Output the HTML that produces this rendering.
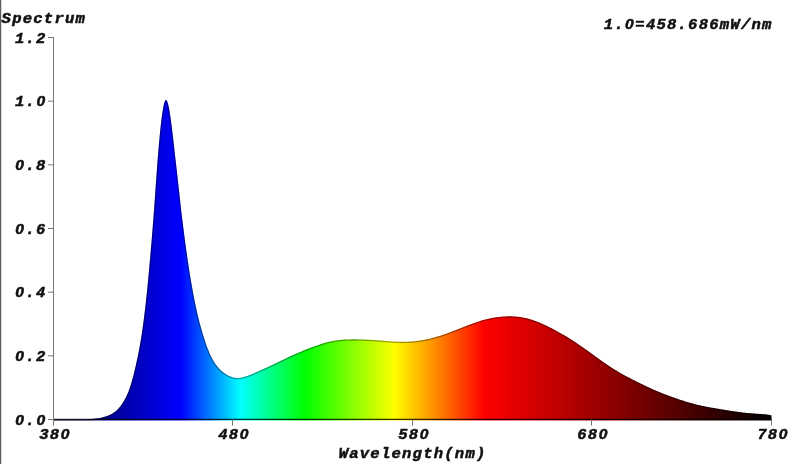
<!DOCTYPE html>
<html><head><meta charset="utf-8"><style>
html,body{margin:0;padding:0;background:#fff;width:800px;height:464px;overflow:hidden}
svg{display:block;filter:blur(0.3px)}
text{font-family:"Liberation Mono", monospace;font-weight:bold;font-style:italic;font-size:15px;text-anchor:middle;fill:#111;stroke:#111;stroke-width:0.5px}
text.z{font-family:"Liberation Sans",sans-serif}
</style></head><body>
<svg width="800" height="464" viewBox="0 0 800 464">
<defs><linearGradient id="sp" gradientUnits="userSpaceOnUse" x1="53.5" y1="0" x2="771.5" y2="0">
<stop offset="0.0000" stop-color="rgb(0,0,64)"/>
<stop offset="0.1775" stop-color="rgb(0,0,255)"/>
<stop offset="0.2600" stop-color="rgb(0,255,255)"/>
<stop offset="0.3500" stop-color="rgb(0,255,0)"/>
<stop offset="0.4750" stop-color="rgb(255,255,0)"/>
<stop offset="0.6000" stop-color="rgb(255,0,0)"/>
<stop offset="1.0000" stop-color="rgb(0,0,0)"/>
</linearGradient></defs>
<rect x="0" y="0" width="1" height="464" fill="#5c5c5c"/><rect x="1" y="0" width="1" height="464" fill="#d8d8d8"/>
<path d="M53.50,419.50 L54.40,419.50 L55.30,419.50 L56.19,419.50 L57.09,419.50 L57.99,419.50 L58.88,419.50 L59.78,419.50 L60.68,419.50 L61.58,419.50 L62.48,419.50 L63.37,419.50 L64.27,419.50 L65.17,419.50 L66.06,419.50 L66.96,419.50 L67.86,419.50 L68.76,419.50 L69.66,419.50 L70.55,419.50 L71.45,419.50 L72.35,419.50 L73.25,419.50 L74.14,419.50 L75.04,419.50 L75.94,419.50 L76.84,419.50 L77.73,419.50 L78.63,419.50 L79.53,419.50 L80.42,419.50 L81.32,419.50 L82.22,419.50 L83.12,419.50 L84.02,419.50 L84.91,419.50 L85.81,419.50 L86.71,419.42 L87.60,419.34 L88.50,419.26 L89.40,419.19 L90.30,419.11 L91.19,419.03 L92.09,418.95 L92.99,418.86 L93.89,418.77 L94.78,418.67 L95.68,418.57 L96.58,418.45 L97.48,418.33 L98.38,418.19 L99.27,418.04 L100.17,417.88 L101.07,417.70 L101.97,417.51 L102.86,417.30 L103.76,417.07 L104.66,416.82 L105.56,416.55 L106.45,416.25 L107.35,415.94 L108.25,415.59 L109.14,415.22 L110.04,414.81 L110.94,414.37 L111.84,413.88 L112.73,413.34 L113.63,412.76 L114.53,412.11 L115.43,411.41 L116.32,410.64 L117.22,409.81 L118.12,408.90 L119.02,407.91 L119.91,406.84 L120.81,405.69 L121.71,404.44 L122.61,403.10 L123.50,401.66 L124.40,400.11 L125.30,398.46 L126.20,396.69 L127.09,394.78 L127.99,392.71 L128.89,390.45 L129.79,387.98 L130.69,385.27 L131.58,382.30 L132.48,379.10 L133.38,375.68 L134.27,372.06 L135.17,368.27 L136.07,364.33 L136.97,360.25 L137.87,356.00 L138.76,351.51 L139.66,346.72 L140.56,341.60 L141.45,336.07 L142.35,330.10 L143.25,323.67 L144.15,316.75 L145.05,309.35 L145.94,301.44 L146.84,293.01 L147.74,284.07 L148.63,274.64 L149.53,264.79 L150.43,254.56 L151.33,244.01 L152.22,233.17 L153.12,222.03 L154.02,210.30 L154.92,197.78 L155.81,184.88 L156.71,172.20 L157.61,160.24 L158.51,149.14 L159.41,138.93 L160.30,129.67 L161.20,121.47 L162.10,114.44 L163.00,108.69 L163.89,104.33 L164.79,101.45 L165.69,100.12 L166.58,100.34 L167.48,102.05 L168.38,105.22 L169.28,109.66 L170.18,115.18 L171.07,121.60 L171.97,128.70 L172.87,136.25 L173.76,144.06 L174.66,151.97 L175.56,159.88 L176.46,167.71 L177.35,175.58 L178.25,183.64 L179.15,191.99 L180.05,200.37 L180.94,208.47 L181.84,216.07 L182.74,223.30 L183.64,230.36 L184.53,237.28 L185.43,244.03 L186.33,250.60 L187.23,256.96 L188.12,263.10 L189.02,269.00 L189.92,274.67 L190.82,280.11 L191.72,285.33 L192.61,290.33 L193.51,295.13 L194.41,299.73 L195.31,304.14 L196.20,308.36 L197.10,312.39 L198.00,316.24 L198.89,319.91 L199.79,323.40 L200.69,326.73 L201.59,329.92 L202.48,332.98 L203.38,335.92 L204.28,338.75 L205.18,341.49 L206.07,344.13 L206.97,346.66 L207.87,349.07 L208.77,351.34 L209.66,353.47 L210.56,355.45 L211.46,357.28 L212.36,358.98 L213.25,360.56 L214.15,362.03 L215.05,363.39 L215.95,364.67 L216.84,365.86 L217.74,366.98 L218.64,368.01 L219.54,368.98 L220.44,369.88 L221.33,370.72 L222.23,371.49 L223.13,372.22 L224.03,372.89 L224.92,373.52 L225.82,374.11 L226.72,374.66 L227.61,375.17 L228.51,375.64 L229.41,376.08 L230.31,376.47 L231.20,376.82 L232.10,377.13 L233.00,377.39 L233.90,377.61 L234.79,377.79 L235.69,377.91 L236.59,377.99 L237.49,378.02 L238.38,378.00 L239.28,377.94 L240.18,377.84 L241.08,377.71 L241.97,377.53 L242.87,377.33 L243.77,377.10 L244.67,376.84 L245.56,376.56 L246.46,376.26 L247.36,375.95 L248.26,375.62 L249.16,375.27 L250.05,374.92 L250.95,374.55 L251.85,374.18 L252.75,373.79 L253.64,373.41 L254.54,373.01 L255.44,372.61 L256.33,372.21 L257.23,371.81 L258.13,371.41 L259.03,371.01 L259.92,370.61 L260.82,370.21 L261.72,369.81 L262.62,369.40 L263.51,369.00 L264.41,368.60 L265.31,368.20 L266.21,367.79 L267.11,367.38 L268.00,366.97 L268.90,366.56 L269.80,366.14 L270.69,365.72 L271.59,365.30 L272.49,364.87 L273.39,364.45 L274.28,364.02 L275.18,363.59 L276.08,363.16 L276.98,362.72 L277.88,362.29 L278.77,361.86 L279.67,361.42 L280.57,360.99 L281.47,360.55 L282.36,360.12 L283.26,359.69 L284.16,359.26 L285.05,358.83 L285.95,358.40 L286.85,357.97 L287.75,357.54 L288.64,357.12 L289.54,356.70 L290.44,356.29 L291.34,355.87 L292.24,355.46 L293.13,355.06 L294.03,354.65 L294.93,354.25 L295.82,353.85 L296.72,353.46 L297.62,353.07 L298.52,352.68 L299.41,352.30 L300.31,351.92 L301.21,351.54 L302.11,351.16 L303.00,350.79 L303.90,350.42 L304.80,350.06 L305.70,349.70 L306.60,349.34 L307.49,348.99 L308.39,348.63 L309.29,348.29 L310.19,347.94 L311.08,347.60 L311.98,347.26 L312.88,346.93 L313.77,346.60 L314.67,346.27 L315.57,345.95 L316.47,345.63 L317.37,345.31 L318.26,345.01 L319.16,344.70 L320.06,344.41 L320.95,344.12 L321.85,343.83 L322.75,343.56 L323.65,343.29 L324.55,343.03 L325.44,342.77 L326.34,342.53 L327.24,342.29 L328.13,342.06 L329.03,341.84 L329.93,341.63 L330.83,341.43 L331.72,341.24 L332.62,341.06 L333.52,340.89 L334.42,340.73 L335.31,340.58 L336.21,340.45 L337.11,340.32 L338.01,340.20 L338.90,340.09 L339.80,339.99 L340.70,339.90 L341.60,339.82 L342.50,339.75 L343.39,339.68 L344.29,339.62 L345.19,339.57 L346.08,339.52 L346.98,339.48 L347.88,339.45 L348.78,339.42 L349.68,339.40 L350.57,339.38 L351.47,339.37 L352.37,339.36 L353.26,339.36 L354.16,339.35 L355.06,339.36 L355.96,339.36 L356.85,339.37 L357.75,339.38 L358.65,339.39 L359.55,339.41 L360.44,339.43 L361.34,339.45 L362.24,339.48 L363.14,339.51 L364.03,339.54 L364.93,339.57 L365.83,339.61 L366.73,339.64 L367.62,339.69 L368.52,339.73 L369.42,339.78 L370.32,339.82 L371.21,339.88 L372.11,339.93 L373.01,339.99 L373.91,340.05 L374.81,340.11 L375.70,340.17 L376.60,340.24 L377.50,340.31 L378.39,340.38 L379.29,340.45 L380.19,340.52 L381.09,340.60 L381.99,340.67 L382.88,340.75 L383.78,340.82 L384.68,340.90 L385.57,340.97 L386.47,341.05 L387.37,341.12 L388.27,341.19 L389.16,341.26 L390.06,341.33 L390.96,341.39 L391.86,341.45 L392.75,341.51 L393.65,341.56 L394.55,341.61 L395.45,341.66 L396.34,341.70 L397.24,341.73 L398.14,341.76 L399.04,341.79 L399.94,341.81 L400.83,341.82 L401.73,341.83 L402.63,341.83 L403.52,341.83 L404.42,341.82 L405.32,341.80 L406.22,341.77 L407.12,341.75 L408.01,341.71 L408.91,341.67 L409.81,341.62 L410.70,341.56 L411.60,341.50 L412.50,341.43 L413.40,341.35 L414.29,341.27 L415.19,341.17 L416.09,341.08 L416.99,340.97 L417.88,340.86 L418.78,340.74 L419.68,340.61 L420.58,340.47 L421.47,340.33 L422.37,340.18 L423.27,340.02 L424.17,339.85 L425.06,339.68 L425.96,339.50 L426.86,339.31 L427.76,339.11 L428.65,338.91 L429.55,338.70 L430.45,338.49 L431.35,338.27 L432.25,338.04 L433.14,337.80 L434.04,337.56 L434.94,337.32 L435.83,337.06 L436.73,336.80 L437.63,336.53 L438.53,336.26 L439.43,335.98 L440.32,335.70 L441.22,335.41 L442.12,335.11 L443.01,334.81 L443.91,334.51 L444.81,334.20 L445.71,333.88 L446.60,333.56 L447.50,333.23 L448.40,332.91 L449.30,332.58 L450.19,332.24 L451.09,331.90 L451.99,331.56 L452.89,331.22 L453.78,330.87 L454.68,330.53 L455.58,330.18 L456.48,329.83 L457.38,329.47 L458.27,329.12 L459.17,328.77 L460.07,328.41 L460.96,328.06 L461.86,327.71 L462.76,327.35 L463.66,327.00 L464.56,326.65 L465.45,326.30 L466.35,325.95 L467.25,325.61 L468.14,325.26 L469.04,324.92 L469.94,324.58 L470.84,324.25 L471.73,323.92 L472.63,323.59 L473.53,323.27 L474.43,322.95 L475.32,322.63 L476.22,322.32 L477.12,322.02 L478.02,321.72 L478.91,321.43 L479.81,321.14 L480.71,320.87 L481.61,320.59 L482.50,320.33 L483.40,320.07 L484.30,319.83 L485.20,319.59 L486.09,319.35 L486.99,319.13 L487.89,318.91 L488.79,318.71 L489.69,318.51 L490.58,318.32 L491.48,318.14 L492.38,317.97 L493.27,317.80 L494.17,317.65 L495.07,317.50 L495.97,317.36 L496.87,317.23 L497.76,317.11 L498.66,317.00 L499.56,316.89 L500.45,316.80 L501.35,316.71 L502.25,316.64 L503.15,316.57 L504.04,316.51 L504.94,316.46 L505.84,316.42 L506.74,316.39 L507.63,316.36 L508.53,316.35 L509.43,316.35 L510.33,316.35 L511.22,316.37 L512.12,316.39 L513.02,316.43 L513.92,316.47 L514.82,316.53 L515.71,316.60 L516.61,316.68 L517.51,316.76 L518.40,316.86 L519.30,316.98 L520.20,317.10 L521.10,317.24 L522.00,317.38 L522.89,317.54 L523.79,317.71 L524.69,317.90 L525.59,318.09 L526.48,318.30 L527.38,318.52 L528.28,318.76 L529.17,319.01 L530.07,319.27 L530.97,319.54 L531.87,319.82 L532.76,320.12 L533.66,320.43 L534.56,320.74 L535.46,321.07 L536.36,321.41 L537.25,321.75 L538.15,322.11 L539.05,322.48 L539.94,322.85 L540.84,323.23 L541.74,323.62 L542.64,324.02 L543.53,324.42 L544.43,324.83 L545.33,325.25 L546.23,325.67 L547.12,326.10 L548.02,326.54 L548.92,326.98 L549.82,327.42 L550.71,327.87 L551.61,328.32 L552.51,328.78 L553.41,329.24 L554.31,329.71 L555.20,330.19 L556.10,330.66 L557.00,331.15 L557.89,331.64 L558.79,332.13 L559.69,332.63 L560.59,333.13 L561.48,333.64 L562.38,334.16 L563.28,334.68 L564.18,335.21 L565.08,335.74 L565.97,336.28 L566.87,336.82 L567.77,337.37 L568.66,337.93 L569.56,338.49 L570.46,339.06 L571.36,339.63 L572.25,340.21 L573.15,340.79 L574.05,341.38 L574.95,341.98 L575.85,342.58 L576.74,343.18 L577.64,343.79 L578.54,344.41 L579.43,345.03 L580.33,345.65 L581.23,346.27 L582.13,346.90 L583.02,347.53 L583.92,348.17 L584.82,348.80 L585.72,349.44 L586.62,350.08 L587.51,350.73 L588.41,351.37 L589.31,352.02 L590.20,352.67 L591.10,353.31 L592.00,353.96 L592.90,354.61 L593.79,355.26 L594.69,355.91 L595.59,356.56 L596.49,357.21 L597.38,357.86 L598.28,358.51 L599.18,359.15 L600.08,359.79 L600.98,360.43 L601.87,361.07 L602.77,361.70 L603.67,362.33 L604.56,362.96 L605.46,363.58 L606.36,364.20 L607.26,364.81 L608.15,365.42 L609.05,366.02 L609.95,366.61 L610.85,367.20 L611.75,367.78 L612.64,368.36 L613.54,368.92 L614.44,369.48 L615.33,370.04 L616.23,370.58 L617.13,371.12 L618.03,371.65 L618.92,372.17 L619.82,372.69 L620.72,373.21 L621.62,373.71 L622.51,374.21 L623.41,374.71 L624.31,375.20 L625.21,375.69 L626.11,376.17 L627.00,376.65 L627.90,377.12 L628.80,377.59 L629.69,378.06 L630.59,378.52 L631.49,378.99 L632.39,379.44 L633.28,379.90 L634.18,380.35 L635.08,380.81 L635.98,381.26 L636.88,381.71 L637.77,382.15 L638.67,382.60 L639.57,383.04 L640.47,383.48 L641.36,383.92 L642.26,384.36 L643.16,384.79 L644.05,385.22 L644.95,385.65 L645.85,386.08 L646.75,386.50 L647.64,386.92 L648.54,387.34 L649.44,387.75 L650.34,388.16 L651.24,388.57 L652.13,388.98 L653.03,389.38 L653.93,389.77 L654.82,390.17 L655.72,390.56 L656.62,390.94 L657.52,391.32 L658.41,391.70 L659.31,392.07 L660.21,392.44 L661.11,392.81 L662.00,393.17 L662.90,393.53 L663.80,393.88 L664.70,394.23 L665.60,394.58 L666.49,394.92 L667.39,395.26 L668.29,395.60 L669.18,395.93 L670.08,396.26 L670.98,396.59 L671.88,396.91 L672.77,397.23 L673.67,397.55 L674.57,397.87 L675.47,398.18 L676.37,398.49 L677.26,398.79 L678.16,399.09 L679.06,399.39 L679.95,399.69 L680.85,399.99 L681.75,400.28 L682.65,400.57 L683.54,400.85 L684.44,401.13 L685.34,401.41 L686.24,401.68 L687.13,401.95 L688.03,402.22 L688.93,402.49 L689.83,402.74 L690.73,403.00 L691.62,403.25 L692.52,403.50 L693.42,403.74 L694.31,403.98 L695.21,404.21 L696.11,404.44 L697.01,404.66 L697.90,404.88 L698.80,405.10 L699.70,405.31 L700.60,405.51 L701.50,405.71 L702.39,405.90 L703.29,406.09 L704.19,406.28 L705.08,406.46 L705.98,406.64 L706.88,406.81 L707.78,406.98 L708.67,407.15 L709.57,407.32 L710.47,407.48 L711.37,407.64 L712.26,407.80 L713.16,407.95 L714.06,408.11 L714.96,408.26 L715.86,408.41 L716.75,408.56 L717.65,408.71 L718.55,408.86 L719.44,409.01 L720.34,409.16 L721.24,409.31 L722.14,409.46 L723.03,409.61 L723.93,409.76 L724.83,409.91 L725.73,410.06 L726.62,410.21 L727.52,410.35 L728.42,410.50 L729.32,410.65 L730.21,410.79 L731.11,410.93 L732.01,411.07 L732.91,411.21 L733.80,411.35 L734.70,411.48 L735.60,411.62 L736.50,411.74 L737.39,411.87 L738.29,411.99 L739.19,412.11 L740.09,412.23 L740.99,412.34 L741.88,412.45 L742.78,412.55 L743.68,412.65 L744.57,412.75 L745.47,412.84 L746.37,412.93 L747.27,413.02 L748.16,413.10 L749.06,413.18 L749.96,413.25 L750.86,413.33 L751.75,413.40 L752.65,413.47 L753.55,413.53 L754.45,413.60 L755.35,413.66 L756.24,413.73 L757.14,413.79 L758.04,413.85 L758.93,413.92 L759.83,413.98 L760.73,414.04 L761.63,414.10 L762.52,414.16 L763.42,414.23 L764.32,414.29 L765.22,414.36 L766.12,414.44 L767.01,414.53 L767.91,414.65 L768.81,414.81 L769.70,415.01 L770.60,415.27 L771.50,415.58 L771.5,420.6 L53.5,420.6 Z" fill="url(#sp)"/>
<clipPath id="cp"><path d="M53.50,419.50 L54.40,419.50 L55.30,419.50 L56.19,419.50 L57.09,419.50 L57.99,419.50 L58.88,419.50 L59.78,419.50 L60.68,419.50 L61.58,419.50 L62.48,419.50 L63.37,419.50 L64.27,419.50 L65.17,419.50 L66.06,419.50 L66.96,419.50 L67.86,419.50 L68.76,419.50 L69.66,419.50 L70.55,419.50 L71.45,419.50 L72.35,419.50 L73.25,419.50 L74.14,419.50 L75.04,419.50 L75.94,419.50 L76.84,419.50 L77.73,419.50 L78.63,419.50 L79.53,419.50 L80.42,419.50 L81.32,419.50 L82.22,419.50 L83.12,419.50 L84.02,419.50 L84.91,419.50 L85.81,419.50 L86.71,419.42 L87.60,419.34 L88.50,419.26 L89.40,419.19 L90.30,419.11 L91.19,419.03 L92.09,418.95 L92.99,418.86 L93.89,418.77 L94.78,418.67 L95.68,418.57 L96.58,418.45 L97.48,418.33 L98.38,418.19 L99.27,418.04 L100.17,417.88 L101.07,417.70 L101.97,417.51 L102.86,417.30 L103.76,417.07 L104.66,416.82 L105.56,416.55 L106.45,416.25 L107.35,415.94 L108.25,415.59 L109.14,415.22 L110.04,414.81 L110.94,414.37 L111.84,413.88 L112.73,413.34 L113.63,412.76 L114.53,412.11 L115.43,411.41 L116.32,410.64 L117.22,409.81 L118.12,408.90 L119.02,407.91 L119.91,406.84 L120.81,405.69 L121.71,404.44 L122.61,403.10 L123.50,401.66 L124.40,400.11 L125.30,398.46 L126.20,396.69 L127.09,394.78 L127.99,392.71 L128.89,390.45 L129.79,387.98 L130.69,385.27 L131.58,382.30 L132.48,379.10 L133.38,375.68 L134.27,372.06 L135.17,368.27 L136.07,364.33 L136.97,360.25 L137.87,356.00 L138.76,351.51 L139.66,346.72 L140.56,341.60 L141.45,336.07 L142.35,330.10 L143.25,323.67 L144.15,316.75 L145.05,309.35 L145.94,301.44 L146.84,293.01 L147.74,284.07 L148.63,274.64 L149.53,264.79 L150.43,254.56 L151.33,244.01 L152.22,233.17 L153.12,222.03 L154.02,210.30 L154.92,197.78 L155.81,184.88 L156.71,172.20 L157.61,160.24 L158.51,149.14 L159.41,138.93 L160.30,129.67 L161.20,121.47 L162.10,114.44 L163.00,108.69 L163.89,104.33 L164.79,101.45 L165.69,100.12 L166.58,100.34 L167.48,102.05 L168.38,105.22 L169.28,109.66 L170.18,115.18 L171.07,121.60 L171.97,128.70 L172.87,136.25 L173.76,144.06 L174.66,151.97 L175.56,159.88 L176.46,167.71 L177.35,175.58 L178.25,183.64 L179.15,191.99 L180.05,200.37 L180.94,208.47 L181.84,216.07 L182.74,223.30 L183.64,230.36 L184.53,237.28 L185.43,244.03 L186.33,250.60 L187.23,256.96 L188.12,263.10 L189.02,269.00 L189.92,274.67 L190.82,280.11 L191.72,285.33 L192.61,290.33 L193.51,295.13 L194.41,299.73 L195.31,304.14 L196.20,308.36 L197.10,312.39 L198.00,316.24 L198.89,319.91 L199.79,323.40 L200.69,326.73 L201.59,329.92 L202.48,332.98 L203.38,335.92 L204.28,338.75 L205.18,341.49 L206.07,344.13 L206.97,346.66 L207.87,349.07 L208.77,351.34 L209.66,353.47 L210.56,355.45 L211.46,357.28 L212.36,358.98 L213.25,360.56 L214.15,362.03 L215.05,363.39 L215.95,364.67 L216.84,365.86 L217.74,366.98 L218.64,368.01 L219.54,368.98 L220.44,369.88 L221.33,370.72 L222.23,371.49 L223.13,372.22 L224.03,372.89 L224.92,373.52 L225.82,374.11 L226.72,374.66 L227.61,375.17 L228.51,375.64 L229.41,376.08 L230.31,376.47 L231.20,376.82 L232.10,377.13 L233.00,377.39 L233.90,377.61 L234.79,377.79 L235.69,377.91 L236.59,377.99 L237.49,378.02 L238.38,378.00 L239.28,377.94 L240.18,377.84 L241.08,377.71 L241.97,377.53 L242.87,377.33 L243.77,377.10 L244.67,376.84 L245.56,376.56 L246.46,376.26 L247.36,375.95 L248.26,375.62 L249.16,375.27 L250.05,374.92 L250.95,374.55 L251.85,374.18 L252.75,373.79 L253.64,373.41 L254.54,373.01 L255.44,372.61 L256.33,372.21 L257.23,371.81 L258.13,371.41 L259.03,371.01 L259.92,370.61 L260.82,370.21 L261.72,369.81 L262.62,369.40 L263.51,369.00 L264.41,368.60 L265.31,368.20 L266.21,367.79 L267.11,367.38 L268.00,366.97 L268.90,366.56 L269.80,366.14 L270.69,365.72 L271.59,365.30 L272.49,364.87 L273.39,364.45 L274.28,364.02 L275.18,363.59 L276.08,363.16 L276.98,362.72 L277.88,362.29 L278.77,361.86 L279.67,361.42 L280.57,360.99 L281.47,360.55 L282.36,360.12 L283.26,359.69 L284.16,359.26 L285.05,358.83 L285.95,358.40 L286.85,357.97 L287.75,357.54 L288.64,357.12 L289.54,356.70 L290.44,356.29 L291.34,355.87 L292.24,355.46 L293.13,355.06 L294.03,354.65 L294.93,354.25 L295.82,353.85 L296.72,353.46 L297.62,353.07 L298.52,352.68 L299.41,352.30 L300.31,351.92 L301.21,351.54 L302.11,351.16 L303.00,350.79 L303.90,350.42 L304.80,350.06 L305.70,349.70 L306.60,349.34 L307.49,348.99 L308.39,348.63 L309.29,348.29 L310.19,347.94 L311.08,347.60 L311.98,347.26 L312.88,346.93 L313.77,346.60 L314.67,346.27 L315.57,345.95 L316.47,345.63 L317.37,345.31 L318.26,345.01 L319.16,344.70 L320.06,344.41 L320.95,344.12 L321.85,343.83 L322.75,343.56 L323.65,343.29 L324.55,343.03 L325.44,342.77 L326.34,342.53 L327.24,342.29 L328.13,342.06 L329.03,341.84 L329.93,341.63 L330.83,341.43 L331.72,341.24 L332.62,341.06 L333.52,340.89 L334.42,340.73 L335.31,340.58 L336.21,340.45 L337.11,340.32 L338.01,340.20 L338.90,340.09 L339.80,339.99 L340.70,339.90 L341.60,339.82 L342.50,339.75 L343.39,339.68 L344.29,339.62 L345.19,339.57 L346.08,339.52 L346.98,339.48 L347.88,339.45 L348.78,339.42 L349.68,339.40 L350.57,339.38 L351.47,339.37 L352.37,339.36 L353.26,339.36 L354.16,339.35 L355.06,339.36 L355.96,339.36 L356.85,339.37 L357.75,339.38 L358.65,339.39 L359.55,339.41 L360.44,339.43 L361.34,339.45 L362.24,339.48 L363.14,339.51 L364.03,339.54 L364.93,339.57 L365.83,339.61 L366.73,339.64 L367.62,339.69 L368.52,339.73 L369.42,339.78 L370.32,339.82 L371.21,339.88 L372.11,339.93 L373.01,339.99 L373.91,340.05 L374.81,340.11 L375.70,340.17 L376.60,340.24 L377.50,340.31 L378.39,340.38 L379.29,340.45 L380.19,340.52 L381.09,340.60 L381.99,340.67 L382.88,340.75 L383.78,340.82 L384.68,340.90 L385.57,340.97 L386.47,341.05 L387.37,341.12 L388.27,341.19 L389.16,341.26 L390.06,341.33 L390.96,341.39 L391.86,341.45 L392.75,341.51 L393.65,341.56 L394.55,341.61 L395.45,341.66 L396.34,341.70 L397.24,341.73 L398.14,341.76 L399.04,341.79 L399.94,341.81 L400.83,341.82 L401.73,341.83 L402.63,341.83 L403.52,341.83 L404.42,341.82 L405.32,341.80 L406.22,341.77 L407.12,341.75 L408.01,341.71 L408.91,341.67 L409.81,341.62 L410.70,341.56 L411.60,341.50 L412.50,341.43 L413.40,341.35 L414.29,341.27 L415.19,341.17 L416.09,341.08 L416.99,340.97 L417.88,340.86 L418.78,340.74 L419.68,340.61 L420.58,340.47 L421.47,340.33 L422.37,340.18 L423.27,340.02 L424.17,339.85 L425.06,339.68 L425.96,339.50 L426.86,339.31 L427.76,339.11 L428.65,338.91 L429.55,338.70 L430.45,338.49 L431.35,338.27 L432.25,338.04 L433.14,337.80 L434.04,337.56 L434.94,337.32 L435.83,337.06 L436.73,336.80 L437.63,336.53 L438.53,336.26 L439.43,335.98 L440.32,335.70 L441.22,335.41 L442.12,335.11 L443.01,334.81 L443.91,334.51 L444.81,334.20 L445.71,333.88 L446.60,333.56 L447.50,333.23 L448.40,332.91 L449.30,332.58 L450.19,332.24 L451.09,331.90 L451.99,331.56 L452.89,331.22 L453.78,330.87 L454.68,330.53 L455.58,330.18 L456.48,329.83 L457.38,329.47 L458.27,329.12 L459.17,328.77 L460.07,328.41 L460.96,328.06 L461.86,327.71 L462.76,327.35 L463.66,327.00 L464.56,326.65 L465.45,326.30 L466.35,325.95 L467.25,325.61 L468.14,325.26 L469.04,324.92 L469.94,324.58 L470.84,324.25 L471.73,323.92 L472.63,323.59 L473.53,323.27 L474.43,322.95 L475.32,322.63 L476.22,322.32 L477.12,322.02 L478.02,321.72 L478.91,321.43 L479.81,321.14 L480.71,320.87 L481.61,320.59 L482.50,320.33 L483.40,320.07 L484.30,319.83 L485.20,319.59 L486.09,319.35 L486.99,319.13 L487.89,318.91 L488.79,318.71 L489.69,318.51 L490.58,318.32 L491.48,318.14 L492.38,317.97 L493.27,317.80 L494.17,317.65 L495.07,317.50 L495.97,317.36 L496.87,317.23 L497.76,317.11 L498.66,317.00 L499.56,316.89 L500.45,316.80 L501.35,316.71 L502.25,316.64 L503.15,316.57 L504.04,316.51 L504.94,316.46 L505.84,316.42 L506.74,316.39 L507.63,316.36 L508.53,316.35 L509.43,316.35 L510.33,316.35 L511.22,316.37 L512.12,316.39 L513.02,316.43 L513.92,316.47 L514.82,316.53 L515.71,316.60 L516.61,316.68 L517.51,316.76 L518.40,316.86 L519.30,316.98 L520.20,317.10 L521.10,317.24 L522.00,317.38 L522.89,317.54 L523.79,317.71 L524.69,317.90 L525.59,318.09 L526.48,318.30 L527.38,318.52 L528.28,318.76 L529.17,319.01 L530.07,319.27 L530.97,319.54 L531.87,319.82 L532.76,320.12 L533.66,320.43 L534.56,320.74 L535.46,321.07 L536.36,321.41 L537.25,321.75 L538.15,322.11 L539.05,322.48 L539.94,322.85 L540.84,323.23 L541.74,323.62 L542.64,324.02 L543.53,324.42 L544.43,324.83 L545.33,325.25 L546.23,325.67 L547.12,326.10 L548.02,326.54 L548.92,326.98 L549.82,327.42 L550.71,327.87 L551.61,328.32 L552.51,328.78 L553.41,329.24 L554.31,329.71 L555.20,330.19 L556.10,330.66 L557.00,331.15 L557.89,331.64 L558.79,332.13 L559.69,332.63 L560.59,333.13 L561.48,333.64 L562.38,334.16 L563.28,334.68 L564.18,335.21 L565.08,335.74 L565.97,336.28 L566.87,336.82 L567.77,337.37 L568.66,337.93 L569.56,338.49 L570.46,339.06 L571.36,339.63 L572.25,340.21 L573.15,340.79 L574.05,341.38 L574.95,341.98 L575.85,342.58 L576.74,343.18 L577.64,343.79 L578.54,344.41 L579.43,345.03 L580.33,345.65 L581.23,346.27 L582.13,346.90 L583.02,347.53 L583.92,348.17 L584.82,348.80 L585.72,349.44 L586.62,350.08 L587.51,350.73 L588.41,351.37 L589.31,352.02 L590.20,352.67 L591.10,353.31 L592.00,353.96 L592.90,354.61 L593.79,355.26 L594.69,355.91 L595.59,356.56 L596.49,357.21 L597.38,357.86 L598.28,358.51 L599.18,359.15 L600.08,359.79 L600.98,360.43 L601.87,361.07 L602.77,361.70 L603.67,362.33 L604.56,362.96 L605.46,363.58 L606.36,364.20 L607.26,364.81 L608.15,365.42 L609.05,366.02 L609.95,366.61 L610.85,367.20 L611.75,367.78 L612.64,368.36 L613.54,368.92 L614.44,369.48 L615.33,370.04 L616.23,370.58 L617.13,371.12 L618.03,371.65 L618.92,372.17 L619.82,372.69 L620.72,373.21 L621.62,373.71 L622.51,374.21 L623.41,374.71 L624.31,375.20 L625.21,375.69 L626.11,376.17 L627.00,376.65 L627.90,377.12 L628.80,377.59 L629.69,378.06 L630.59,378.52 L631.49,378.99 L632.39,379.44 L633.28,379.90 L634.18,380.35 L635.08,380.81 L635.98,381.26 L636.88,381.71 L637.77,382.15 L638.67,382.60 L639.57,383.04 L640.47,383.48 L641.36,383.92 L642.26,384.36 L643.16,384.79 L644.05,385.22 L644.95,385.65 L645.85,386.08 L646.75,386.50 L647.64,386.92 L648.54,387.34 L649.44,387.75 L650.34,388.16 L651.24,388.57 L652.13,388.98 L653.03,389.38 L653.93,389.77 L654.82,390.17 L655.72,390.56 L656.62,390.94 L657.52,391.32 L658.41,391.70 L659.31,392.07 L660.21,392.44 L661.11,392.81 L662.00,393.17 L662.90,393.53 L663.80,393.88 L664.70,394.23 L665.60,394.58 L666.49,394.92 L667.39,395.26 L668.29,395.60 L669.18,395.93 L670.08,396.26 L670.98,396.59 L671.88,396.91 L672.77,397.23 L673.67,397.55 L674.57,397.87 L675.47,398.18 L676.37,398.49 L677.26,398.79 L678.16,399.09 L679.06,399.39 L679.95,399.69 L680.85,399.99 L681.75,400.28 L682.65,400.57 L683.54,400.85 L684.44,401.13 L685.34,401.41 L686.24,401.68 L687.13,401.95 L688.03,402.22 L688.93,402.49 L689.83,402.74 L690.73,403.00 L691.62,403.25 L692.52,403.50 L693.42,403.74 L694.31,403.98 L695.21,404.21 L696.11,404.44 L697.01,404.66 L697.90,404.88 L698.80,405.10 L699.70,405.31 L700.60,405.51 L701.50,405.71 L702.39,405.90 L703.29,406.09 L704.19,406.28 L705.08,406.46 L705.98,406.64 L706.88,406.81 L707.78,406.98 L708.67,407.15 L709.57,407.32 L710.47,407.48 L711.37,407.64 L712.26,407.80 L713.16,407.95 L714.06,408.11 L714.96,408.26 L715.86,408.41 L716.75,408.56 L717.65,408.71 L718.55,408.86 L719.44,409.01 L720.34,409.16 L721.24,409.31 L722.14,409.46 L723.03,409.61 L723.93,409.76 L724.83,409.91 L725.73,410.06 L726.62,410.21 L727.52,410.35 L728.42,410.50 L729.32,410.65 L730.21,410.79 L731.11,410.93 L732.01,411.07 L732.91,411.21 L733.80,411.35 L734.70,411.48 L735.60,411.62 L736.50,411.74 L737.39,411.87 L738.29,411.99 L739.19,412.11 L740.09,412.23 L740.99,412.34 L741.88,412.45 L742.78,412.55 L743.68,412.65 L744.57,412.75 L745.47,412.84 L746.37,412.93 L747.27,413.02 L748.16,413.10 L749.06,413.18 L749.96,413.25 L750.86,413.33 L751.75,413.40 L752.65,413.47 L753.55,413.53 L754.45,413.60 L755.35,413.66 L756.24,413.73 L757.14,413.79 L758.04,413.85 L758.93,413.92 L759.83,413.98 L760.73,414.04 L761.63,414.10 L762.52,414.16 L763.42,414.23 L764.32,414.29 L765.22,414.36 L766.12,414.44 L767.01,414.53 L767.91,414.65 L768.81,414.81 L769.70,415.01 L770.60,415.27 L771.50,415.58 L771.5,420.6 L53.5,420.6 Z"/></clipPath>
<path d="M53.50,419.50 L54.40,419.50 L55.30,419.50 L56.19,419.50 L57.09,419.50 L57.99,419.50 L58.88,419.50 L59.78,419.50 L60.68,419.50 L61.58,419.50 L62.48,419.50 L63.37,419.50 L64.27,419.50 L65.17,419.50 L66.06,419.50 L66.96,419.50 L67.86,419.50 L68.76,419.50 L69.66,419.50 L70.55,419.50 L71.45,419.50 L72.35,419.50 L73.25,419.50 L74.14,419.50 L75.04,419.50 L75.94,419.50 L76.84,419.50 L77.73,419.50 L78.63,419.50 L79.53,419.50 L80.42,419.50 L81.32,419.50 L82.22,419.50 L83.12,419.50 L84.02,419.50 L84.91,419.50 L85.81,419.50 L86.71,419.42 L87.60,419.34 L88.50,419.26 L89.40,419.19 L90.30,419.11 L91.19,419.03 L92.09,418.95 L92.99,418.86 L93.89,418.77 L94.78,418.67 L95.68,418.57 L96.58,418.45 L97.48,418.33 L98.38,418.19 L99.27,418.04 L100.17,417.88 L101.07,417.70 L101.97,417.51 L102.86,417.30 L103.76,417.07 L104.66,416.82 L105.56,416.55 L106.45,416.25 L107.35,415.94 L108.25,415.59 L109.14,415.22 L110.04,414.81 L110.94,414.37 L111.84,413.88 L112.73,413.34 L113.63,412.76 L114.53,412.11 L115.43,411.41 L116.32,410.64 L117.22,409.81 L118.12,408.90 L119.02,407.91 L119.91,406.84 L120.81,405.69 L121.71,404.44 L122.61,403.10 L123.50,401.66 L124.40,400.11 L125.30,398.46 L126.20,396.69 L127.09,394.78 L127.99,392.71 L128.89,390.45 L129.79,387.98 L130.69,385.27 L131.58,382.30 L132.48,379.10 L133.38,375.68 L134.27,372.06 L135.17,368.27 L136.07,364.33 L136.97,360.25 L137.87,356.00 L138.76,351.51 L139.66,346.72 L140.56,341.60 L141.45,336.07 L142.35,330.10 L143.25,323.67 L144.15,316.75 L145.05,309.35 L145.94,301.44 L146.84,293.01 L147.74,284.07 L148.63,274.64 L149.53,264.79 L150.43,254.56 L151.33,244.01 L152.22,233.17 L153.12,222.03 L154.02,210.30 L154.92,197.78 L155.81,184.88 L156.71,172.20 L157.61,160.24 L158.51,149.14 L159.41,138.93 L160.30,129.67 L161.20,121.47 L162.10,114.44 L163.00,108.69 L163.89,104.33 L164.79,101.45 L165.69,100.12 L166.58,100.34 L167.48,102.05 L168.38,105.22 L169.28,109.66 L170.18,115.18 L171.07,121.60 L171.97,128.70 L172.87,136.25 L173.76,144.06 L174.66,151.97 L175.56,159.88 L176.46,167.71 L177.35,175.58 L178.25,183.64 L179.15,191.99 L180.05,200.37 L180.94,208.47 L181.84,216.07 L182.74,223.30 L183.64,230.36 L184.53,237.28 L185.43,244.03 L186.33,250.60 L187.23,256.96 L188.12,263.10 L189.02,269.00 L189.92,274.67 L190.82,280.11 L191.72,285.33 L192.61,290.33 L193.51,295.13 L194.41,299.73 L195.31,304.14 L196.20,308.36 L197.10,312.39 L198.00,316.24 L198.89,319.91 L199.79,323.40 L200.69,326.73 L201.59,329.92 L202.48,332.98 L203.38,335.92 L204.28,338.75 L205.18,341.49 L206.07,344.13 L206.97,346.66 L207.87,349.07 L208.77,351.34 L209.66,353.47 L210.56,355.45 L211.46,357.28 L212.36,358.98 L213.25,360.56 L214.15,362.03 L215.05,363.39 L215.95,364.67 L216.84,365.86 L217.74,366.98 L218.64,368.01 L219.54,368.98 L220.44,369.88 L221.33,370.72 L222.23,371.49 L223.13,372.22 L224.03,372.89 L224.92,373.52 L225.82,374.11 L226.72,374.66 L227.61,375.17 L228.51,375.64 L229.41,376.08 L230.31,376.47 L231.20,376.82 L232.10,377.13 L233.00,377.39 L233.90,377.61 L234.79,377.79 L235.69,377.91 L236.59,377.99 L237.49,378.02 L238.38,378.00 L239.28,377.94 L240.18,377.84 L241.08,377.71 L241.97,377.53 L242.87,377.33 L243.77,377.10 L244.67,376.84 L245.56,376.56 L246.46,376.26 L247.36,375.95 L248.26,375.62 L249.16,375.27 L250.05,374.92 L250.95,374.55 L251.85,374.18 L252.75,373.79 L253.64,373.41 L254.54,373.01 L255.44,372.61 L256.33,372.21 L257.23,371.81 L258.13,371.41 L259.03,371.01 L259.92,370.61 L260.82,370.21 L261.72,369.81 L262.62,369.40 L263.51,369.00 L264.41,368.60 L265.31,368.20 L266.21,367.79 L267.11,367.38 L268.00,366.97 L268.90,366.56 L269.80,366.14 L270.69,365.72 L271.59,365.30 L272.49,364.87 L273.39,364.45 L274.28,364.02 L275.18,363.59 L276.08,363.16 L276.98,362.72 L277.88,362.29 L278.77,361.86 L279.67,361.42 L280.57,360.99 L281.47,360.55 L282.36,360.12 L283.26,359.69 L284.16,359.26 L285.05,358.83 L285.95,358.40 L286.85,357.97 L287.75,357.54 L288.64,357.12 L289.54,356.70 L290.44,356.29 L291.34,355.87 L292.24,355.46 L293.13,355.06 L294.03,354.65 L294.93,354.25 L295.82,353.85 L296.72,353.46 L297.62,353.07 L298.52,352.68 L299.41,352.30 L300.31,351.92 L301.21,351.54 L302.11,351.16 L303.00,350.79 L303.90,350.42 L304.80,350.06 L305.70,349.70 L306.60,349.34 L307.49,348.99 L308.39,348.63 L309.29,348.29 L310.19,347.94 L311.08,347.60 L311.98,347.26 L312.88,346.93 L313.77,346.60 L314.67,346.27 L315.57,345.95 L316.47,345.63 L317.37,345.31 L318.26,345.01 L319.16,344.70 L320.06,344.41 L320.95,344.12 L321.85,343.83 L322.75,343.56 L323.65,343.29 L324.55,343.03 L325.44,342.77 L326.34,342.53 L327.24,342.29 L328.13,342.06 L329.03,341.84 L329.93,341.63 L330.83,341.43 L331.72,341.24 L332.62,341.06 L333.52,340.89 L334.42,340.73 L335.31,340.58 L336.21,340.45 L337.11,340.32 L338.01,340.20 L338.90,340.09 L339.80,339.99 L340.70,339.90 L341.60,339.82 L342.50,339.75 L343.39,339.68 L344.29,339.62 L345.19,339.57 L346.08,339.52 L346.98,339.48 L347.88,339.45 L348.78,339.42 L349.68,339.40 L350.57,339.38 L351.47,339.37 L352.37,339.36 L353.26,339.36 L354.16,339.35 L355.06,339.36 L355.96,339.36 L356.85,339.37 L357.75,339.38 L358.65,339.39 L359.55,339.41 L360.44,339.43 L361.34,339.45 L362.24,339.48 L363.14,339.51 L364.03,339.54 L364.93,339.57 L365.83,339.61 L366.73,339.64 L367.62,339.69 L368.52,339.73 L369.42,339.78 L370.32,339.82 L371.21,339.88 L372.11,339.93 L373.01,339.99 L373.91,340.05 L374.81,340.11 L375.70,340.17 L376.60,340.24 L377.50,340.31 L378.39,340.38 L379.29,340.45 L380.19,340.52 L381.09,340.60 L381.99,340.67 L382.88,340.75 L383.78,340.82 L384.68,340.90 L385.57,340.97 L386.47,341.05 L387.37,341.12 L388.27,341.19 L389.16,341.26 L390.06,341.33 L390.96,341.39 L391.86,341.45 L392.75,341.51 L393.65,341.56 L394.55,341.61 L395.45,341.66 L396.34,341.70 L397.24,341.73 L398.14,341.76 L399.04,341.79 L399.94,341.81 L400.83,341.82 L401.73,341.83 L402.63,341.83 L403.52,341.83 L404.42,341.82 L405.32,341.80 L406.22,341.77 L407.12,341.75 L408.01,341.71 L408.91,341.67 L409.81,341.62 L410.70,341.56 L411.60,341.50 L412.50,341.43 L413.40,341.35 L414.29,341.27 L415.19,341.17 L416.09,341.08 L416.99,340.97 L417.88,340.86 L418.78,340.74 L419.68,340.61 L420.58,340.47 L421.47,340.33 L422.37,340.18 L423.27,340.02 L424.17,339.85 L425.06,339.68 L425.96,339.50 L426.86,339.31 L427.76,339.11 L428.65,338.91 L429.55,338.70 L430.45,338.49 L431.35,338.27 L432.25,338.04 L433.14,337.80 L434.04,337.56 L434.94,337.32 L435.83,337.06 L436.73,336.80 L437.63,336.53 L438.53,336.26 L439.43,335.98 L440.32,335.70 L441.22,335.41 L442.12,335.11 L443.01,334.81 L443.91,334.51 L444.81,334.20 L445.71,333.88 L446.60,333.56 L447.50,333.23 L448.40,332.91 L449.30,332.58 L450.19,332.24 L451.09,331.90 L451.99,331.56 L452.89,331.22 L453.78,330.87 L454.68,330.53 L455.58,330.18 L456.48,329.83 L457.38,329.47 L458.27,329.12 L459.17,328.77 L460.07,328.41 L460.96,328.06 L461.86,327.71 L462.76,327.35 L463.66,327.00 L464.56,326.65 L465.45,326.30 L466.35,325.95 L467.25,325.61 L468.14,325.26 L469.04,324.92 L469.94,324.58 L470.84,324.25 L471.73,323.92 L472.63,323.59 L473.53,323.27 L474.43,322.95 L475.32,322.63 L476.22,322.32 L477.12,322.02 L478.02,321.72 L478.91,321.43 L479.81,321.14 L480.71,320.87 L481.61,320.59 L482.50,320.33 L483.40,320.07 L484.30,319.83 L485.20,319.59 L486.09,319.35 L486.99,319.13 L487.89,318.91 L488.79,318.71 L489.69,318.51 L490.58,318.32 L491.48,318.14 L492.38,317.97 L493.27,317.80 L494.17,317.65 L495.07,317.50 L495.97,317.36 L496.87,317.23 L497.76,317.11 L498.66,317.00 L499.56,316.89 L500.45,316.80 L501.35,316.71 L502.25,316.64 L503.15,316.57 L504.04,316.51 L504.94,316.46 L505.84,316.42 L506.74,316.39 L507.63,316.36 L508.53,316.35 L509.43,316.35 L510.33,316.35 L511.22,316.37 L512.12,316.39 L513.02,316.43 L513.92,316.47 L514.82,316.53 L515.71,316.60 L516.61,316.68 L517.51,316.76 L518.40,316.86 L519.30,316.98 L520.20,317.10 L521.10,317.24 L522.00,317.38 L522.89,317.54 L523.79,317.71 L524.69,317.90 L525.59,318.09 L526.48,318.30 L527.38,318.52 L528.28,318.76 L529.17,319.01 L530.07,319.27 L530.97,319.54 L531.87,319.82 L532.76,320.12 L533.66,320.43 L534.56,320.74 L535.46,321.07 L536.36,321.41 L537.25,321.75 L538.15,322.11 L539.05,322.48 L539.94,322.85 L540.84,323.23 L541.74,323.62 L542.64,324.02 L543.53,324.42 L544.43,324.83 L545.33,325.25 L546.23,325.67 L547.12,326.10 L548.02,326.54 L548.92,326.98 L549.82,327.42 L550.71,327.87 L551.61,328.32 L552.51,328.78 L553.41,329.24 L554.31,329.71 L555.20,330.19 L556.10,330.66 L557.00,331.15 L557.89,331.64 L558.79,332.13 L559.69,332.63 L560.59,333.13 L561.48,333.64 L562.38,334.16 L563.28,334.68 L564.18,335.21 L565.08,335.74 L565.97,336.28 L566.87,336.82 L567.77,337.37 L568.66,337.93 L569.56,338.49 L570.46,339.06 L571.36,339.63 L572.25,340.21 L573.15,340.79 L574.05,341.38 L574.95,341.98 L575.85,342.58 L576.74,343.18 L577.64,343.79 L578.54,344.41 L579.43,345.03 L580.33,345.65 L581.23,346.27 L582.13,346.90 L583.02,347.53 L583.92,348.17 L584.82,348.80 L585.72,349.44 L586.62,350.08 L587.51,350.73 L588.41,351.37 L589.31,352.02 L590.20,352.67 L591.10,353.31 L592.00,353.96 L592.90,354.61 L593.79,355.26 L594.69,355.91 L595.59,356.56 L596.49,357.21 L597.38,357.86 L598.28,358.51 L599.18,359.15 L600.08,359.79 L600.98,360.43 L601.87,361.07 L602.77,361.70 L603.67,362.33 L604.56,362.96 L605.46,363.58 L606.36,364.20 L607.26,364.81 L608.15,365.42 L609.05,366.02 L609.95,366.61 L610.85,367.20 L611.75,367.78 L612.64,368.36 L613.54,368.92 L614.44,369.48 L615.33,370.04 L616.23,370.58 L617.13,371.12 L618.03,371.65 L618.92,372.17 L619.82,372.69 L620.72,373.21 L621.62,373.71 L622.51,374.21 L623.41,374.71 L624.31,375.20 L625.21,375.69 L626.11,376.17 L627.00,376.65 L627.90,377.12 L628.80,377.59 L629.69,378.06 L630.59,378.52 L631.49,378.99 L632.39,379.44 L633.28,379.90 L634.18,380.35 L635.08,380.81 L635.98,381.26 L636.88,381.71 L637.77,382.15 L638.67,382.60 L639.57,383.04 L640.47,383.48 L641.36,383.92 L642.26,384.36 L643.16,384.79 L644.05,385.22 L644.95,385.65 L645.85,386.08 L646.75,386.50 L647.64,386.92 L648.54,387.34 L649.44,387.75 L650.34,388.16 L651.24,388.57 L652.13,388.98 L653.03,389.38 L653.93,389.77 L654.82,390.17 L655.72,390.56 L656.62,390.94 L657.52,391.32 L658.41,391.70 L659.31,392.07 L660.21,392.44 L661.11,392.81 L662.00,393.17 L662.90,393.53 L663.80,393.88 L664.70,394.23 L665.60,394.58 L666.49,394.92 L667.39,395.26 L668.29,395.60 L669.18,395.93 L670.08,396.26 L670.98,396.59 L671.88,396.91 L672.77,397.23 L673.67,397.55 L674.57,397.87 L675.47,398.18 L676.37,398.49 L677.26,398.79 L678.16,399.09 L679.06,399.39 L679.95,399.69 L680.85,399.99 L681.75,400.28 L682.65,400.57 L683.54,400.85 L684.44,401.13 L685.34,401.41 L686.24,401.68 L687.13,401.95 L688.03,402.22 L688.93,402.49 L689.83,402.74 L690.73,403.00 L691.62,403.25 L692.52,403.50 L693.42,403.74 L694.31,403.98 L695.21,404.21 L696.11,404.44 L697.01,404.66 L697.90,404.88 L698.80,405.10 L699.70,405.31 L700.60,405.51 L701.50,405.71 L702.39,405.90 L703.29,406.09 L704.19,406.28 L705.08,406.46 L705.98,406.64 L706.88,406.81 L707.78,406.98 L708.67,407.15 L709.57,407.32 L710.47,407.48 L711.37,407.64 L712.26,407.80 L713.16,407.95 L714.06,408.11 L714.96,408.26 L715.86,408.41 L716.75,408.56 L717.65,408.71 L718.55,408.86 L719.44,409.01 L720.34,409.16 L721.24,409.31 L722.14,409.46 L723.03,409.61 L723.93,409.76 L724.83,409.91 L725.73,410.06 L726.62,410.21 L727.52,410.35 L728.42,410.50 L729.32,410.65 L730.21,410.79 L731.11,410.93 L732.01,411.07 L732.91,411.21 L733.80,411.35 L734.70,411.48 L735.60,411.62 L736.50,411.74 L737.39,411.87 L738.29,411.99 L739.19,412.11 L740.09,412.23 L740.99,412.34 L741.88,412.45 L742.78,412.55 L743.68,412.65 L744.57,412.75 L745.47,412.84 L746.37,412.93 L747.27,413.02 L748.16,413.10 L749.06,413.18 L749.96,413.25 L750.86,413.33 L751.75,413.40 L752.65,413.47 L753.55,413.53 L754.45,413.60 L755.35,413.66 L756.24,413.73 L757.14,413.79 L758.04,413.85 L758.93,413.92 L759.83,413.98 L760.73,414.04 L761.63,414.10 L762.52,414.16 L763.42,414.23 L764.32,414.29 L765.22,414.36 L766.12,414.44 L767.01,414.53 L767.91,414.65 L768.81,414.81 L769.70,415.01 L770.60,415.27 L771.50,415.58" fill="none" stroke="#000" stroke-opacity="0.35" stroke-width="2.6" clip-path="url(#cp)"/>
<line x1="53.5" y1="419.4" x2="771.5" y2="419.4" stroke="#000" stroke-opacity="0.8" stroke-width="1.3"/>
<g stroke="#777" stroke-width="1">
<line x1="53.5" y1="37" x2="53.5" y2="425.5"/>
<line x1="48" y1="419.50" x2="53.5" y2="419.50"/><text stroke="none" class="z" transform="matrix(1.04,0,0,1,19.60,424.50)">0</text><text stroke="none" transform="matrix(1.04,0,0,1,30.16,424.50)">.</text><text stroke="none" class="z" transform="matrix(1.04,0,0,1,40.72,424.50)">0</text><line x1="48" y1="355.83" x2="53.5" y2="355.83"/><text stroke="none" class="z" transform="matrix(1.04,0,0,1,19.60,360.83)">0</text><text stroke="none" transform="matrix(1.04,0,0,1,30.16,360.83)">.</text><text stroke="none" transform="matrix(1.04,0,0,1,40.72,360.83)">2</text><line x1="48" y1="292.17" x2="53.5" y2="292.17"/><text stroke="none" class="z" transform="matrix(1.04,0,0,1,19.60,297.17)">0</text><text stroke="none" transform="matrix(1.04,0,0,1,30.16,297.17)">.</text><text stroke="none" transform="matrix(1.04,0,0,1,40.72,297.17)">4</text><line x1="48" y1="228.50" x2="53.5" y2="228.50"/><text stroke="none" class="z" transform="matrix(1.04,0,0,1,19.60,233.50)">0</text><text stroke="none" transform="matrix(1.04,0,0,1,30.16,233.50)">.</text><text stroke="none" transform="matrix(1.04,0,0,1,40.72,233.50)">6</text><line x1="48" y1="164.84" x2="53.5" y2="164.84"/><text stroke="none" class="z" transform="matrix(1.04,0,0,1,19.60,169.84)">0</text><text stroke="none" transform="matrix(1.04,0,0,1,30.16,169.84)">.</text><text stroke="none" transform="matrix(1.04,0,0,1,40.72,169.84)">8</text><line x1="48" y1="101.17" x2="53.5" y2="101.17"/><text stroke="none" transform="matrix(1.04,0,0,1,19.60,106.17)">1</text><text stroke="none" transform="matrix(1.04,0,0,1,30.16,106.17)">.</text><text stroke="none" class="z" transform="matrix(1.04,0,0,1,40.72,106.17)">0</text><line x1="48" y1="37.50" x2="53.5" y2="37.50"/><text stroke="none" transform="matrix(1.04,0,0,1,19.60,42.50)">1</text><text stroke="none" transform="matrix(1.04,0,0,1,30.16,42.50)">.</text><text stroke="none" transform="matrix(1.04,0,0,1,40.72,42.50)">2</text>
<line x1="53.50" y1="419.5" x2="53.50" y2="425.5"/><text stroke="none" transform="matrix(1.04,0,0,1,43.94,438.50)">3</text><text stroke="none" transform="matrix(1.04,0,0,1,54.50,438.50)">8</text><text stroke="none" class="z" transform="matrix(1.04,0,0,1,65.06,438.50)">0</text><line x1="232.50" y1="419.5" x2="232.50" y2="425.5"/><text stroke="none" transform="matrix(1.04,0,0,1,222.94,438.50)">4</text><text stroke="none" transform="matrix(1.04,0,0,1,233.50,438.50)">8</text><text stroke="none" class="z" transform="matrix(1.04,0,0,1,244.06,438.50)">0</text><line x1="412.50" y1="419.5" x2="412.50" y2="425.5"/><text stroke="none" transform="matrix(1.04,0,0,1,402.94,438.50)">5</text><text stroke="none" transform="matrix(1.04,0,0,1,413.50,438.50)">8</text><text stroke="none" class="z" transform="matrix(1.04,0,0,1,424.06,438.50)">0</text><line x1="591.50" y1="419.5" x2="591.50" y2="425.5"/><text stroke="none" transform="matrix(1.04,0,0,1,581.94,438.50)">6</text><text stroke="none" transform="matrix(1.04,0,0,1,592.50,438.50)">8</text><text stroke="none" class="z" transform="matrix(1.04,0,0,1,603.06,438.50)">0</text><line x1="771.50" y1="419.5" x2="771.50" y2="425.5"/><text stroke="none" transform="matrix(1.04,0,0,1,761.94,438.50)">7</text><text stroke="none" transform="matrix(1.04,0,0,1,772.50,438.50)">8</text><text stroke="none" class="z" transform="matrix(1.04,0,0,1,783.06,438.50)">0</text>
</g>
<text transform="matrix(1.04,0,0,1,6.28,22.50)">S</text><text transform="matrix(1.04,0,0,1,16.84,22.50)">p</text><text transform="matrix(1.04,0,0,1,27.40,22.50)">e</text><text transform="matrix(1.04,0,0,1,37.96,22.50)">c</text><text transform="matrix(1.04,0,0,1,48.52,22.50)">t</text><text transform="matrix(1.04,0,0,1,59.08,22.50)">r</text><text transform="matrix(1.04,0,0,1,69.64,22.50)">u</text><text transform="matrix(1.04,0,0,1,80.20,22.50)">m</text>
<text transform="matrix(1.04,0,0,1,608.32,29.00)">1</text><text transform="matrix(1.04,0,0,1,618.88,29.00)">.</text><text class="z" transform="matrix(1.04,0,0,1,629.44,29.00)">0</text><text transform="matrix(1.04,0,0,1,640.00,29.00)">=</text><text transform="matrix(1.04,0,0,1,650.56,29.00)">4</text><text transform="matrix(1.04,0,0,1,661.12,29.00)">5</text><text transform="matrix(1.04,0,0,1,671.68,29.00)">8</text><text transform="matrix(1.04,0,0,1,682.24,29.00)">.</text><text transform="matrix(1.04,0,0,1,692.80,29.00)">6</text><text transform="matrix(1.04,0,0,1,703.36,29.00)">8</text><text transform="matrix(1.04,0,0,1,713.92,29.00)">6</text><text transform="matrix(1.04,0,0,1,724.48,29.00)">m</text><text transform="matrix(1.04,0,0,1,735.04,29.00)">W</text><text transform="matrix(1.04,0,0,1,745.60,29.00)">/</text><text transform="matrix(1.04,0,0,1,756.16,29.00)">n</text><text transform="matrix(1.04,0,0,1,766.72,29.00)">m</text>
<text transform="matrix(1.04,0,0,1,343.36,458.00)">W</text><text transform="matrix(1.04,0,0,1,353.92,458.00)">a</text><text transform="matrix(1.04,0,0,1,364.48,458.00)">v</text><text transform="matrix(1.04,0,0,1,375.04,458.00)">e</text><text transform="matrix(1.04,0,0,1,385.60,458.00)">l</text><text transform="matrix(1.04,0,0,1,396.16,458.00)">e</text><text transform="matrix(1.04,0,0,1,406.72,458.00)">n</text><text transform="matrix(1.04,0,0,1,417.28,458.00)">g</text><text transform="matrix(1.04,0,0,1,427.84,458.00)">t</text><text transform="matrix(1.04,0,0,1,438.40,458.00)">h</text><text transform="matrix(1.04,0,0,1,448.96,458.00)">(</text><text transform="matrix(1.04,0,0,1,459.52,458.00)">n</text><text transform="matrix(1.04,0,0,1,470.08,458.00)">m</text><text transform="matrix(1.04,0,0,1,480.64,458.00)">)</text>
</svg>
</body></html>
